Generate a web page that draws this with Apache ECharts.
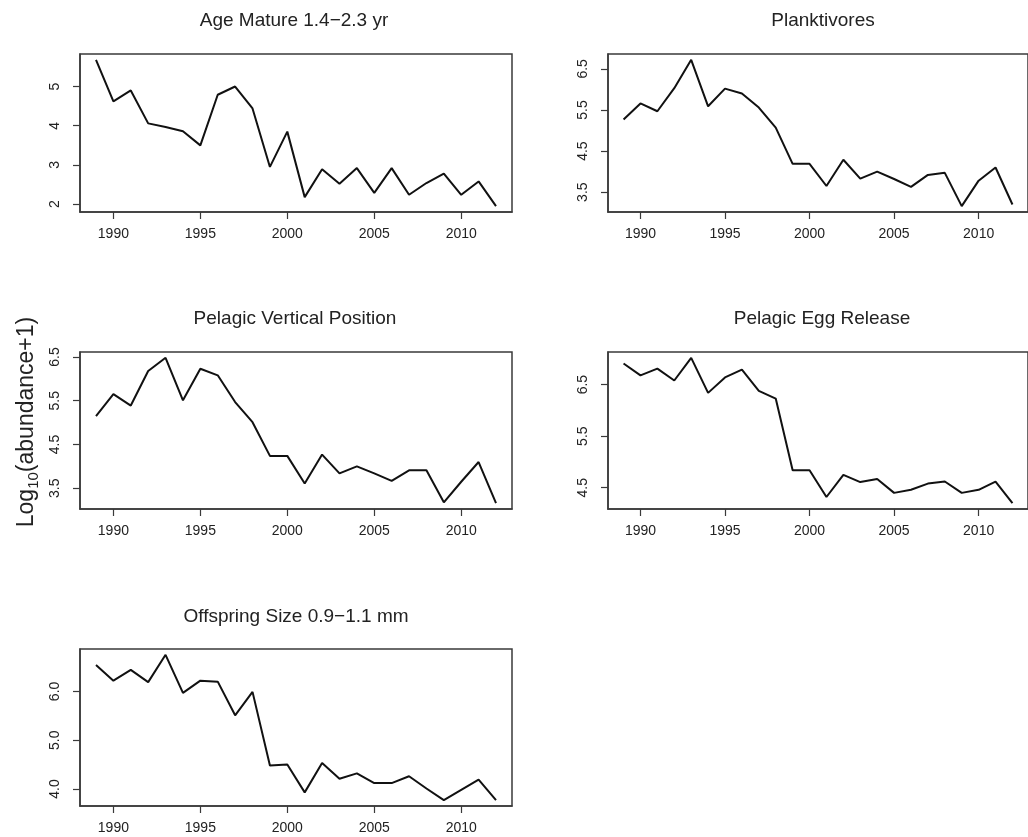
<!DOCTYPE html>
<html>
<head>
<meta charset="utf-8">
<script src="https://cdn.jsdelivr.net/npm/echarts@6/dist/echarts.min.js"></script>
<style>
  html, body { margin: 0; padding: 0; background: #ffffff; }
  #chart { width: 1028px; height: 837px; }
</style>
</head>
<body>
<div id="chart"></div>
<script>
// ---- data ----
const years = [1989, 1990, 1991, 1992, 1993, 1994, 1995, 1996, 1997, 1998, 1999, 2000,
               2001, 2002, 2003, 2004, 2005, 2006, 2007, 2008, 2009, 2010, 2011, 2012];
const xTickLabels = [1990, 1995, 2000, 2005, 2010];

const panelTitles = ['Age Mature 1.4\u22122.3 yr', 'Planktivores', 'Pelagic Vertical Position',
                     'Pelagic Egg Release', 'Offspring Size 0.9\u22121.1 mm'];

const ageMature = [5.68, 4.62, 4.90, 4.06, 3.97, 3.86, 3.50, 4.79, 5.00, 4.44, 2.95, 3.85,
                   2.18, 2.89, 2.52, 2.92, 2.29, 2.92, 2.24, 2.54, 2.78, 2.24, 2.58, 1.95];
const planktivores = [5.27, 5.66, 5.47, 6.03, 6.72, 5.59, 6.02, 5.90, 5.56, 5.07, 4.19, 4.19,
                      3.65, 4.29, 3.83, 4.00, 3.82, 3.63, 3.92, 3.97, 3.16, 3.78, 4.10, 3.20];
const pelagicVertical = [5.15, 5.65, 5.39, 6.18, 6.48, 5.51, 6.23, 6.08, 5.47, 5.01, 4.24, 4.24,
                         3.61, 4.27, 3.84, 4.00, 3.84, 3.67, 3.91, 3.91, 3.18, 3.65, 4.10, 3.16];
const pelagicEgg = [6.91, 6.68, 6.81, 6.58, 7.02, 6.34, 6.64, 6.79, 6.38, 6.23, 4.84, 4.84,
                    4.32, 4.75, 4.61, 4.67, 4.40, 4.46, 4.58, 4.62, 4.40, 4.46, 4.62, 4.20];
const offspringSize = [6.54, 6.22, 6.44, 6.19, 6.75, 5.97, 6.22, 6.20, 5.51, 5.99, 4.48, 4.50,
                       3.93, 4.53, 4.21, 4.32, 4.12, 4.12, 4.26, 4.01, 3.77, 3.98, 4.19, 3.77];

const yTicksAge = [2, 3, 4, 5];
const yTicksPlank = [3.5, 4.5, 5.5, 6.5];
const yTicksVert = [3.5, 4.5, 5.5, 6.5];
const yTicksEgg = [4.5, 5.5, 6.5];
const yTicksOff = [4.0, 5.0, 6.0];

// ---- layout ----
const panels = [
  { values: ageMature,       ticks: yTicksAge,   dec: 0, grid: { left: 80,  top: 54,  width: 432, height: 158 }, tx: 294, ty: 21 },
  { values: planktivores,    ticks: yTicksPlank, dec: 1, grid: { left: 608, top: 54,  width: 434, height: 158 }, tx: 823, ty: 21 },
  { values: pelagicVertical, ticks: yTicksVert,  dec: 1, grid: { left: 80,  top: 352, width: 432, height: 157 }, tx: 295, ty: 319 },
  { values: pelagicEgg,      ticks: yTicksEgg,   dec: 1, grid: { left: 608, top: 352, width: 434, height: 157 }, tx: 822, ty: 319 },
  { values: offspringSize,   ticks: yTicksOff,   dec: 1, grid: { left: 80,  top: 649, width: 432, height: 157 }, tx: 296, ty: 617 }
];

const FONT = 'Liberation Sans, Arial, sans-serif';
const INK = '#222222';
const BOX = '#3a3a3a';

// R-style 4% range extension
function ext(arr) {
  const lo = Math.min.apply(null, arr), hi = Math.max.apply(null, arr);
  const d = (hi - lo) * 0.04;
  return [lo - d, hi + d];
}
const xr = ext(years);

const grids = [], xAxes = [], yAxes = [], series = [], graphics = [];
panels.forEach((p, i) => {
  grids.push(Object.assign({ show: true, borderColor: BOX, borderWidth: 1.5, backgroundColor: 'transparent' }, p.grid));
  xAxes.push({
    type: 'value', gridIndex: i, min: xr[0], max: xr[1],
    axisLine: { show: true, lineStyle: { color: BOX, width: 1.5 } },
    axisTick: { show: true, inside: false, length: 7, customValues: xTickLabels, lineStyle: { color: BOX, width: 1.2 } },
    axisLabel: { show: true, customValues: xTickLabels, margin: 15, fontSize: 14, color: INK, fontFamily: FONT,
                 formatter: v => String(Math.round(v)) },
    splitLine: { show: false }
  });
  const yr = ext(p.values);
  yAxes.push({
    type: 'value', gridIndex: i, min: yr[0], max: yr[1],
    axisLine: { show: true, lineStyle: { color: BOX, width: 1.5 } },
    axisTick: { show: true, inside: false, length: 7, customValues: p.ticks, lineStyle: { color: BOX, width: 1.2 } },
    axisLabel: { show: true, customValues: p.ticks, rotate: 90, margin: 18, fontSize: 14, color: INK, fontFamily: FONT,
                 formatter: v => Number(v).toFixed(p.dec) },
    splitLine: { show: false }
  });
  series.push({
    type: 'line', xAxisIndex: i, yAxisIndex: i,
    data: years.map((y, k) => [y, p.values[k]]),
    showSymbol: false, symbol: 'none', animation: false,
    lineStyle: { color: '#111111', width: 2 }
  });
  graphics.push({
    type: 'text',
    x: p.tx, y: p.ty,
    style: {
      text: panelTitles[i],
      align: 'center', verticalAlign: 'middle',
      fontSize: 19, fontFamily: FONT, fill: INK
    }
  });
});

graphics.push({
  type: 'text',
  x: 27, y: 422,
  rotation: Math.PI / 2,
  style: {
    text: '{b|Log}{s|10}{b|(abundance+1)}',
    align: 'center',
    verticalAlign: 'middle',
    fill: INK,
    rich: {
      b: { fontSize: 23, fontFamily: FONT, fill: INK, lineHeight: 32 },
      s: { fontSize: 15, fontFamily: FONT, fill: INK, lineHeight: 32, padding: [13, 0, 0, 0] }
    }
  }
});

const chart = echarts.init(document.getElementById('chart'), null, { renderer: 'canvas' });
chart.setOption({
  backgroundColor: '#ffffff',
  animation: false,
  grid: grids,
  xAxis: xAxes,
  yAxis: yAxes,
  series: series,
  graphic: graphics
});
</script>
</body>
</html>
